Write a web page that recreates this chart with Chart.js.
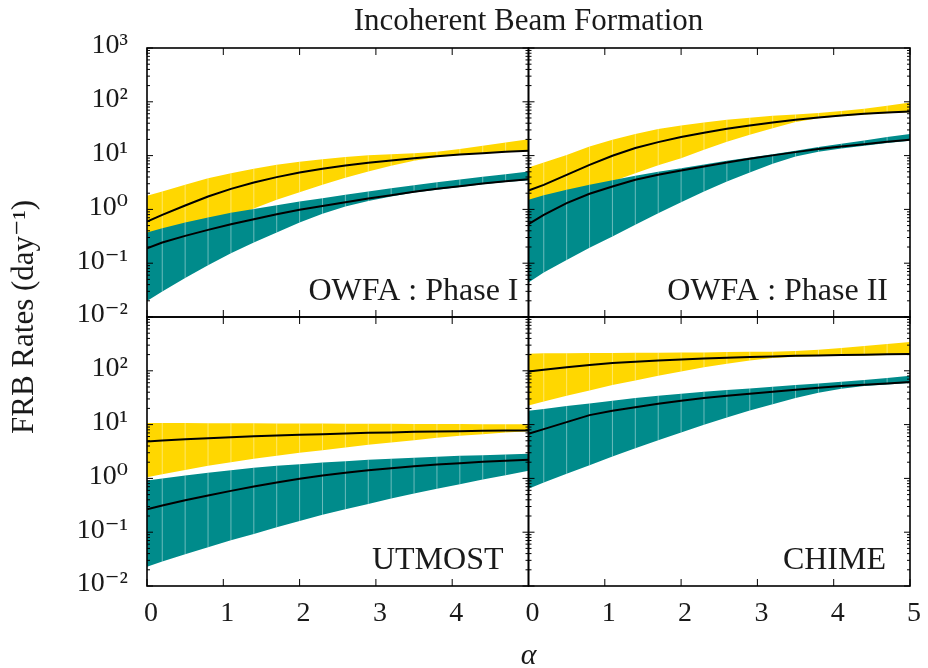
<!DOCTYPE html>
<html>
<head>
<meta charset="utf-8">
<script src="https://cdn.jsdelivr.net/npm/chart.js@4/dist/chart.umd.min.js"></script>
<style>
html,body{margin:0;padding:0;background:#fff;}
#wrap{width:928px;height:668px;position:relative;}
</style>
</head>
<body>
<div id="wrap"><canvas id="c" width="928" height="668"></canvas></div>
<script>
// ---------- data ----------
const alphaValues = [0, 0.2, 0.5, 0.8, 1.1, 1.4, 1.7, 2.0, 2.3, 2.6, 2.9, 3.2, 3.5, 3.8, 4.1, 4.4, 4.7, 5.0];
const xTickLabels = ['0', '1', '2', '3', '4', '5'];
const yTickExponents = [-2, -1, 0, 1, 2, 3];
const yTickLabels = ['10⁻²', '10⁻¹', '10⁰', '10¹', '10²', '10³'];
const panelTitles = ['OWFA : Phase I', 'OWFA : Phase II', 'UTMOST', 'CHIME'];
const chartTitle = 'Incoherent Beam Formation';
const yAxisTitle = 'FRB Rates (day⁻¹)';
const xAxisTitle = 'α';

// OWFA : Phase I
const owfa1YellowLow  = [0.229, 0.271, 0.361, 0.494, 0.706, 1.04, 1.51, 2.09, 2.86, 3.86, 5.07, 6.46, 8.00, 9.37, 10.3, 10.9, 11.5, 12.0];
const owfa1YellowHigh = [1.79, 2.15, 2.86, 3.81, 4.72, 5.68, 6.74, 7.67, 8.59, 9.37, 10.1, 10.6, 11.1, 11.8, 13.2, 15.2, 17.5, 20.2];
const owfa1YellowMid  = [0.595, 0.792, 1.18, 1.74, 2.41, 3.16, 3.98, 4.86, 5.68, 6.55, 7.35, 8.12, 8.97, 9.77, 10.5, 11.1, 11.8, 12.3];
const owfa1TealLow    = [0.0199, 0.0297, 0.0533, 0.0917, 0.153, 0.242, 0.371, 0.570, 0.826, 1.13, 1.44, 1.74, 2.06, 2.33, 2.62, 2.93, 3.22, 3.50];
const owfa1TealHigh   = [0.371, 0.447, 0.570, 0.706, 0.863, 1.02, 1.20, 1.40, 1.62, 1.87, 2.15, 2.48, 2.82, 3.21, 3.60, 4.03, 4.52, 5.07];
const owfa1TealMid    = [0.190, 0.242, 0.322, 0.416, 0.531, 0.658, 0.815, 0.981, 1.16, 1.36, 1.59, 1.84, 2.12, 2.41, 2.70, 3.03, 3.35, 3.65];

// OWFA : Phase II
const owfa2YellowLow  = [0.913, 1.13, 1.62, 2.31, 3.30, 4.72, 6.65, 8.97, 12.8, 18.1, 24.4, 32.4, 41.9, 49.5, 54.0, 58.0, 61.5, 64.0];
const owfa2YellowHigh = [6.01, 7.45, 10.3, 14.8, 19.7, 25.1, 31.1, 36.4, 41.3, 46.3, 50.5, 55.0, 58.2, 61.7, 67.2, 74.2, 84.5, 97.4];
const owfa2YellowMid  = [2.25, 2.86, 4.39, 6.74, 9.91, 13.8, 17.8, 22.1, 26.6, 31.5, 36.4, 41.3, 46.3, 51.2, 55.8, 59.9, 63.5, 66.2];
const owfa2TealLow    = [0.0436, 0.0670, 0.115, 0.193, 0.313, 0.516, 0.851, 1.36, 2.15, 3.30, 4.86, 7.04, 9.63, 11.8, 13.6, 15.2, 17.1, 18.8];
const owfa2TealHigh   = [1.51, 1.84, 2.31, 2.86, 3.50, 4.21, 5.00, 5.85, 6.84, 8.00, 9.23, 10.6, 12.3, 14.4, 16.6, 19.1, 22.1, 25.1];
const owfa2TealMid    = [0.531, 0.792, 1.31, 1.95, 2.66, 3.55, 4.39, 5.29, 6.28, 7.45, 8.71, 10.1, 11.6, 13.2, 14.8, 16.3, 18.1, 19.7];

// UTMOST
const utmostYellowLow  = [1.05, 1.20, 1.44, 1.71, 2.00, 2.31, 2.63, 2.99, 3.35, 3.75, 4.21, 4.65, 5.14, 5.68, 6.19, 6.65, 7.14, 7.56];
const utmostYellowHigh = [10.7, 10.7, 10.7, 10.6, 10.6, 10.6, 10.5, 10.5, 10.5, 10.4, 10.4, 10.4, 10.3, 10.3, 10.3, 10.2, 10.2, 10.2];
const utmostYellowMid  = [4.86, 5.07, 5.37, 5.60, 5.85, 6.10, 6.28, 6.46, 6.65, 6.84, 7.03, 7.14, 7.35, 7.45, 7.56, 7.67, 7.78, 7.78];
const utmostTealLow    = [0.0229, 0.0284, 0.0389, 0.0525, 0.0709, 0.0930, 0.124, 0.162, 0.210, 0.267, 0.336, 0.423, 0.524, 0.640, 0.780, 0.953, 1.15, 1.38];
const utmostTealHigh   = [0.913, 0.995, 1.13, 1.27, 1.42, 1.57, 1.71, 1.84, 1.97, 2.09, 2.21, 2.31, 2.41, 2.52, 2.63, 2.70, 2.78, 2.86];
const utmostTealMid    = [0.267, 0.313, 0.393, 0.480, 0.586, 0.706, 0.838, 0.981, 1.13, 1.27, 1.42, 1.55, 1.69, 1.81, 1.92, 2.03, 2.12, 2.21];

// CHIME
const chimeYellowLow  = [22.7, 26.9, 34.4, 43.2, 54.2, 66.2, 80.9, 97.4, 116, 135, 156, 173, 183, 188, 191, 193, 196, 199];
const chimeYellowHigh = [207, 211, 211, 214, 214, 217, 217, 220, 220, 223, 226, 226, 233, 246, 265, 288, 314, 342];
const chimeYellowMid  = [97.4, 105, 117, 128, 139, 147, 156, 163, 170, 175, 180, 185, 191, 193, 196, 199, 202, 205];
const chimeTealLow    = [0.639, 0.838, 1.22, 1.76, 2.55, 3.65, 5.14, 7.14, 9.91, 13.6, 18.3, 24.0, 31.1, 39.1, 46.3, 52.0, 55.8, 59.1];
const chimeTealHigh   = [18.1, 19.4, 22.1, 24.7, 27.7, 31.1, 34.4, 37.4, 40.7, 43.8, 47.0, 50.5, 54.2, 58.3, 62.6, 67.2, 73.2, 80.9];
const chimeTealMid    = [6.74, 8.23, 11.1, 15.0, 18.1, 21.1, 24.4, 27.7, 31.1, 34.4, 37.4, 40.7, 44.4, 48.4, 52.0, 55.0, 58.3, 61.7];

// ---------- styling ----------
const GOLD = '#FFD700';
const TEAL = '#008B8B';
const INK = '#1a1a1a';
const SERIF = '"Liberation Serif", "DejaVu Serif", serif';

Chart.defaults.font.family = SERIF;
Chart.defaults.color = INK;

const panels = [
  {xId: 'xL', yId: 'yT', name: panelTitles[0], rightPad: 10, yl: owfa1YellowLow, yu: owfa1YellowHigh, ym: owfa1YellowMid, tl: owfa1TealLow, tu: owfa1TealHigh, tm: owfa1TealMid},
  {xId: 'xR', yId: 'yT', name: panelTitles[1], rightPad: 22, yl: owfa2YellowLow, yu: owfa2YellowHigh, ym: owfa2YellowMid, tl: owfa2TealLow, tu: owfa2TealHigh, tm: owfa2TealMid},
  {xId: 'xL', yId: 'yB', name: panelTitles[2], rightPad: 25, yl: utmostYellowLow, yu: utmostYellowHigh, ym: utmostYellowMid, tl: utmostTealLow, tu: utmostTealHigh, tm: utmostTealMid},
  {xId: 'xR', yId: 'yB', name: panelTitles[3], rightPad: 24, yl: chimeYellowLow, yu: chimeYellowHigh, ym: chimeYellowMid, tl: chimeTealLow, tu: chimeTealHigh, tm: chimeTealMid}
];

function pts(arr) { return alphaValues.map((a, i) => ({x: a, y: arr[i]})); }

const datasets = [];
panels.forEach(p => {
  const common = {xAxisID: p.xId, yAxisID: p.yId, pointRadius: 0, pointHoverRadius: 0};
  datasets.push(Object.assign({label: p.name + ' yellow low', data: pts(p.yl), borderColor: 'rgba(0,0,0,0)', borderWidth: 0, fill: false, order: 3}, common));
  datasets.push(Object.assign({label: p.name + ' yellow high', data: pts(p.yu), borderColor: 'rgba(0,0,0,0)', borderWidth: 0, backgroundColor: GOLD, fill: '-1', order: 3, seam: true}, common));
  datasets.push(Object.assign({label: p.name + ' teal low', data: pts(p.tl), borderColor: 'rgba(0,0,0,0)', borderWidth: 0, fill: false, order: 2}, common));
  datasets.push(Object.assign({label: p.name + ' teal high', data: pts(p.tu), borderColor: 'rgba(0,0,0,0)', borderWidth: 0, backgroundColor: TEAL, fill: '-1', order: 2, seam: true}, common));
  datasets.push(Object.assign({label: p.name + ' yellow median', data: pts(p.ym), borderColor: '#000', borderWidth: 2, fill: false, order: 1}, common));
  datasets.push(Object.assign({label: p.name + ' teal median', data: pts(p.tm), borderColor: '#000', borderWidth: 2, fill: false, order: 1}, common));
});

function logLabel(value, allowTop) {
  const l = Math.log10(value);
  const e = Math.round(l);
  if (Math.abs(l - e) > 1e-6) return '';
  if (!allowTop && e === 3) return '';
  const idx = yTickExponents.indexOf(e);
  return idx >= 0 ? yTickLabels[idx] : '';
}

// seams between fill segments (like the rendering artefacts of the original)
const seamPlugin = {
  id: 'seams',
  afterDatasetDraw(chart, args) {
    const ds = chart.data.datasets[args.index];
    if (!ds.seam) return;
    const upper = args.meta;
    const lower = chart.getDatasetMeta(args.index - 1);
    const xs = chart.scales[ds.xAxisID], ys = chart.scales[ds.yAxisID];
    const ctx = chart.ctx;
    ctx.save();
    ctx.beginPath();
    ctx.rect(xs.left, ys.top, xs.right - xs.left, ys.bottom - ys.top);
    ctx.clip();
    ctx.strokeStyle = 'rgba(255,255,255,0.42)';
    ctx.lineWidth = 1;
    for (let i = 1; i < upper.data.length - 1; i++) {
      const x = upper.data[i].x;
      ctx.beginPath();
      ctx.moveTo(x, upper.data[i].y);
      ctx.lineTo(x, lower.data[i].y);
      ctx.stroke();
    }
    ctx.restore();
  }
};

// frames, inward ticks and panel labels
const framePlugin = {
  id: 'frames',
  afterDatasetsDraw(chart) {
    const ctx = chart.ctx;
    ctx.save();
    ctx.strokeStyle = '#000';
    panels.forEach(p => {
      const xs = chart.scales[p.xId], ys = chart.scales[p.yId];
      const L = xs.left, R = xs.right, T = ys.top, B = ys.bottom;
      ctx.lineWidth = 1;
      ctx.beginPath();
      xTickLabels.forEach(t => {
        const px = xs.getPixelForValue(Number(t));
        ctx.moveTo(px, T); ctx.lineTo(px, T + 7);
        ctx.moveTo(px, B); ctx.lineTo(px, B - 7);
      });
      for (let e = yTickExponents[0]; e <= yTickExponents[yTickExponents.length - 1]; e++) {
        for (let m = 1; m <= 9; m++) {
          const v = m * Math.pow(10, e);
          if (v > ys.max * 1.0001) break;
          const py = ys.getPixelForValue(v);
          const len = m === 1 ? 6 : 3;
          ctx.moveTo(L, py); ctx.lineTo(L + len, py);
          ctx.moveTo(R, py); ctx.lineTo(R - len, py);
        }
      }
      ctx.stroke();
      ctx.lineWidth = 1.6;
      ctx.strokeRect(L, T, R - L, B - T);
      ctx.fillStyle = INK;
      ctx.font = '32px ' + SERIF;
      ctx.textAlign = 'right';
      ctx.textBaseline = 'alphabetic';
      ctx.fillText(p.name, R - p.rightPad, B - 17);
    });
    ctx.restore();
  }
};

const tickFont = {size: 28, family: SERIF};

new Chart(document.getElementById('c'), {
  type: 'line',
  data: {datasets},
  plugins: [seamPlugin, framePlugin],
  options: {
    responsive: false,
    animation: false,
    devicePixelRatio: 1,
    events: [],
    layout: {padding: {left: 0, right: 14, top: 0, bottom: 0}},
    plugins: {
      legend: {display: false},
      tooltip: {enabled: false},
      title: {
        display: true, text: chartTitle, fullSize: false, color: INK,
        font: {size: 31, weight: 'normal', lineHeight: 1.2, family: SERIF},
        padding: {top: 3.4, bottom: 7.4}
      }
    },
    scales: {
      yTitle: {
        type: 'linear', axis: 'y', position: 'left', weight: 10, min: 0, max: 1,
        grid: {display: false}, border: {display: false}, ticks: {display: false},
        title: {display: true, text: yAxisTitle, color: INK, font: {size: 31, lineHeight: 1.2, family: SERIF}, padding: {top: 6.4, bottom: 0}},
        afterFit(s) { s.width = 50; }
      },
      yT: {
        type: 'logarithmic', position: 'left', stack: 'ys', stackWeight: 1, weight: 2,
        min: 0.01, max: 1000,
        grid: {display: false, drawTicks: false}, border: {display: false},
        ticks: {autoSkip: false, padding: 19, labelOffset: -2, font: tickFont, color: INK, callback: v => logLabel(v, true)},
        afterFit(s) { s.width = 97; }
      },
      yB: {
        type: 'logarithmic', position: 'left', stack: 'ys', stackWeight: 1, weight: 1,
        min: 0.01, max: 1000,
        grid: {display: false, drawTicks: false}, border: {display: false},
        ticks: {autoSkip: false, padding: 19, labelOffset: -2, font: tickFont, color: INK, callback: v => logLabel(v, false)},
        afterFit(s) { s.width = 97; }
      },
      xL: {
        type: 'linear', position: 'bottom', stack: 'xs', stackWeight: 1, weight: 1,
        min: 0, max: 5,
        grid: {display: false, drawTicks: false}, border: {display: false},
        ticks: {stepSize: 1, autoSkip: false, maxRotation: 0, padding: 11, labelOffset: 4, font: tickFont, color: INK,
          callback: v => (v === 5 ? '' : (xTickLabels[v] !== undefined ? xTickLabels[v] : ''))},
        afterFit(s) { s.height = 44; }
      },
      xR: {
        type: 'linear', position: 'bottom', stack: 'xs', stackWeight: 1, weight: 1,
        min: 0, max: 5,
        grid: {display: false, drawTicks: false}, border: {display: false},
        ticks: {stepSize: 1, autoSkip: false, maxRotation: 0, padding: 11, labelOffset: 4, font: tickFont, color: INK,
          callback: v => (xTickLabels[v] !== undefined ? xTickLabels[v] : '')},
        afterFit(s) { s.height = 44; }
      },
      xTitle: {
        type: 'linear', axis: 'x', position: 'bottom', weight: 10, min: 0, max: 1,
        grid: {display: false}, border: {display: false}, ticks: {display: false},
        title: {display: true, text: xAxisTitle, color: INK, font: {size: 30, style: 'italic', lineHeight: 0.8, family: SERIF}, padding: {top: 0, bottom: 0}},
        afterFit(s) { s.height = 38; }
      }
    }
  }
});
</script>
</body>
</html>
